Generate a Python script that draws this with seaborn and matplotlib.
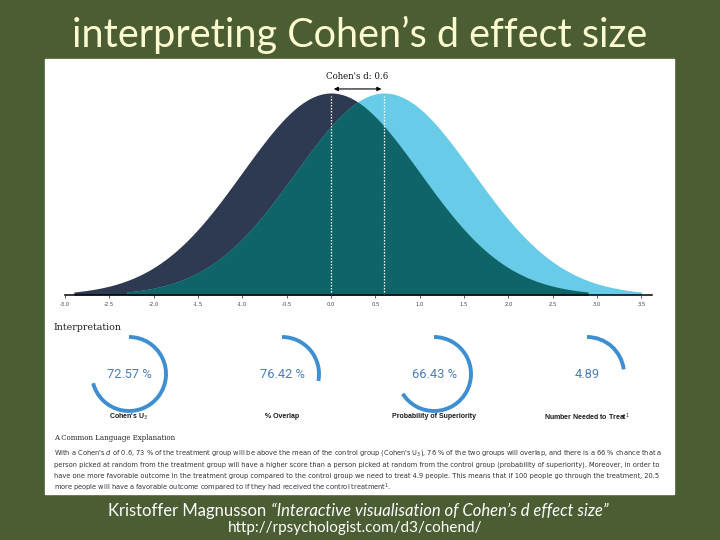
import numpy as np
import matplotlib
matplotlib.use("Agg")
import matplotlib.pyplot as plt
from matplotlib.patches import Rectangle, Arc
import seaborn as sns

# ----------------------------------------
# Data
# ----------------------------------------
group_means = [0.0, 0.6]          # control, treatment (Cohen's d = 0.6)
group_sd = 1.0
curve_ranges = [(-2.9, 2.9), (-2.3, 3.5)]
x_ticks = [-3.0, -2.5, -2.0, -1.5, -1.0, -0.5, 0.0, 0.5, 1.0, 1.5, 2.0, 2.5, 3.0, 3.5]

stat_values = ["72.57 %", "76.42 %", "66.43 %", "4.89"]
stat_names = ["Cohen's U$_3$", "% Overlap", "Probability of Superiority",
              "Number Needed to Treat$^1$"]
arc_fill = [0.71, 0.28, 0.66, 0.23]   # how far each ring was drawn in the screenshot

explanation_lines = [
    "With a Cohen's $d$ of 0.6, 73 % of the treatment group will be above the mean of the control group "
    "(Cohen's U$_3$), 76 % of the two groups will overlap, and there is a 66 % chance that a",
    "person picked at random from the treatment group will have a higher score than a person picked at "
    "random from the control group (probability of superiority). Moreover, in order to",
    "have one more favorable outcome in the treatment group compared to the control group we need to "
    "treat 4.9 people. This means that if 100 people go through the treatment, 20.5",
    "more people will have a favorable outcome compared to if they had received the control treatment$^1$.",
]

# ----------------------------------------
# Styling
# ----------------------------------------
sns.set_theme(style="white")
plt.rcParams["font.family"] = ["DejaVu Sans"]

BG = "#4b5d33"
DARK = "#2e3a52"
LIGHT = "#68cbe8"
TEAL = "#0f6467"
RING = "#3d8fd1"

W, H = 720, 540
fig = plt.figure(figsize=(7.2, 5.4), dpi=100, facecolor=BG)


def px_axes(left, top, right, bottom):
    return fig.add_axes([left / W, 1 - bottom / H, (right - left) / W, (bottom - top) / H])


# white screenshot panel
fig.add_artist(Rectangle((45 / W, 1 - 494 / H), 629 / W, 435 / H,
                         transform=fig.transFigure, color="white", zorder=0))

# ----------------------------------------
# Two normal curves
# ----------------------------------------
ax = px_axes(65, 93, 652, 295)
ax.set_facecolor("none")

def pdf(x, mu, sd):
    return np.exp(-0.5 * ((x - mu) / sd) ** 2) / (sd * np.sqrt(2 * np.pi))

xs = [np.linspace(lo, hi, 500) for lo, hi in curve_ranges]
ys = [pdf(x, m, group_sd) for x, m in zip(xs, group_means)]

ax.fill_between(xs[0], ys[0], color=DARK, lw=0, zorder=2)
ax.fill_between(xs[1], ys[1], color=LIGHT, lw=0, zorder=3)

# overlapping area
x_all = np.linspace(curve_ranges[1][0], curve_ranges[0][1], 500)
overlap = np.minimum(pdf(x_all, group_means[0], group_sd), pdf(x_all, group_means[1], group_sd))
ax.fill_between(x_all, overlap, color=TEAL, lw=0, zorder=4)

# dotted lines at both group means
peak = pdf(0, 0, group_sd)
for m in group_means:
    sns.lineplot(x=[m, m], y=[0, peak * 0.985], ax=ax, color="white", lw=0.9,
                 estimator=None, sort=False, linestyle=(0, (1.2, 1.2)), zorder=5)

ax.annotate("", xy=(group_means[0], peak * 1.02), xytext=(group_means[1], peak * 1.02),
            arrowprops=dict(arrowstyle="<|-|>", color="black", lw=0.8, mutation_scale=6),
            annotation_clip=False)
ax.text(np.mean(group_means), peak * 1.08, f"Cohen's d: {group_means[1] - group_means[0]:.1f}",
        ha="center", va="center", fontsize=6.2, family="DejaVu Serif", color="#111")

ax.set_xlim(-3.0, 3.62)
ax.set_ylim(0, peak)
ax.set_xticks(x_ticks)
ax.set_xticklabels([f"{t:.1f}" for t in x_ticks])
ax.set_yticks([])
ax.tick_params(axis="x", labelsize=3.8, colors="#444", length=2, width=0.6, pad=3,
               bottom=True, direction="out")
for side in ["top", "left", "right"]:
    ax.spines[side].set_visible(False)
ax.spines["bottom"].set_color("black")
ax.spines["bottom"].set_linewidth(1.1)
ax.spines["bottom"].set_zorder(6)
ax.set_xlabel("")
ax.set_ylabel("")

# ----------------------------------------
# Interpretation rings and texts (pixel coordinates)
# ----------------------------------------
ov = fig.add_axes([0, 0, 1, 1])
ov.set_xlim(0, W)
ov.set_ylim(H, 0)
ov.set_facecolor("none")
ov.axis("off")

ov.text(54, 327, "Interpretation", ha="left", va="center", fontsize=6.8,
        family="DejaVu Serif", color="#222")

centers = [129, 282, 434, 587]
ring_y, ring_r = 374, 37
for cx, val, name, frac in zip(centers, stat_values, stat_names, arc_fill):
    ov.add_patch(Arc((cx, ring_y), 2 * ring_r, 2 * ring_r, theta1=-90, theta2=-90 + 360 * frac,
                     color=RING, lw=2.8))
    ov.text(cx, ring_y, val, ha="center", va="center", fontsize=9.3, family="Roboto",
            color="#4a7fb8")
    ov.text(cx, 417, name, ha="center", va="center", fontsize=5, family="Liberation Sans",
            weight="bold", color="#1a1a1a")

ov.text(54, 438, "A Common Language Explanation", ha="left", va="center", fontsize=5,
        family="DejaVu Serif", color="#222")
for i, line in enumerate(explanation_lines):
    ov.text(54, 453 + i * 11.7, line, ha="left", va="center", fontsize=4.75, color="#333")

# ----------------------------------------
# Slide title and caption
# ----------------------------------------
ov.text(360, 35, "interpreting Cohen\u2019s d effect size", ha="center", va="center",
        fontsize=28.5, family="Lato", color="#fffbd0")
ov.text(271, 511, "Kristoffer Magnusson ", ha="right", va="center", fontsize=12,
        family="Lato", color="white")
ov.text(271, 511, "\u201cInteractive visualisation of Cohen\u2019s d effect size\u201d", ha="left",
        va="center", fontsize=12, family="Lato", style="italic", color="white")
ov.text(355, 528, "http://rpsychologist.com/d3/cohend/", ha="center", va="center",
        fontsize=11, family="Lato", color="white")

fig.savefig("out.png", dpi=100, facecolor=fig.get_facecolor())
